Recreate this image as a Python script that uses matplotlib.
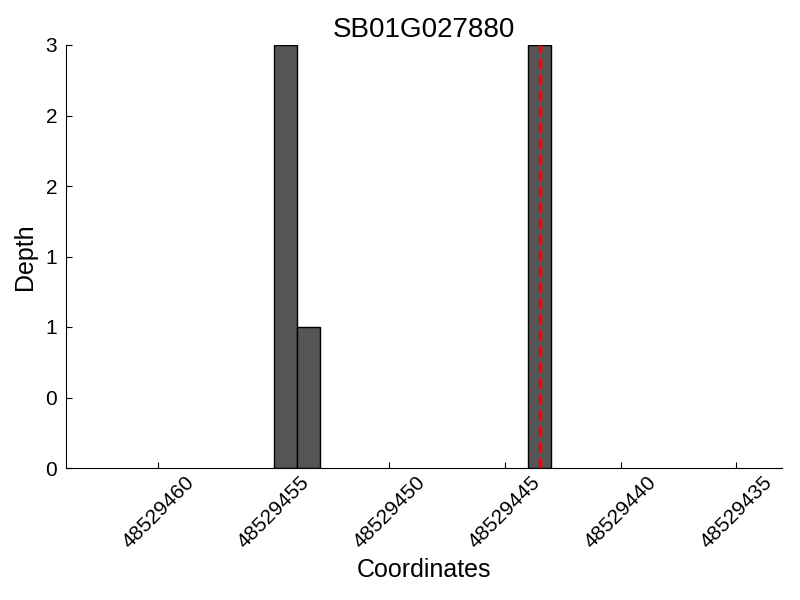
import matplotlib
matplotlib.use("Agg")
import matplotlib.pyplot as plt
from matplotlib.ticker import FormatStrFormatter

# posiciones (inicio de cada barra) y profundidad
posiciones = [48529454, 48529453, 48529443]
profundidad = [3, 1, 3]
snp = 48529443.5
titulo = "SB01G027880"
marcas_x = [48529460, 48529455, 48529450, 48529445, 48529440, 48529435]
marcas_y = [0, 0.5, 1, 1.5, 2, 2.5, 3]

plt.rcParams['font.family'] = ['Liberation Sans', 'DejaVu Sans']

fig = plt.figure(figsize=(8, 6), dpi=100)
ax = fig.add_axes([0.082, 0.22, 0.896, 0.705])

ax.bar(posiciones, profundidad, width=1, align='edge', color='#555555',
       edgecolor='black', linewidth=1)
ax.axvline(snp, color='red', linestyle='--', linewidth=2.5, dashes=(3, 1.6))

ax.set_xlim(48529464, 48529433)
ax.set_ylim(0, 3)
ax.set_xticks(marcas_x)
ax.set_xticklabels([str(m) for m in marcas_x], rotation=45, ha='center')
ax.set_yticks(marcas_y)
ax.yaxis.set_major_formatter(FormatStrFormatter('%d'))

ax.spines['top'].set_visible(False)
ax.spines['right'].set_visible(False)
ax.tick_params(direction='in', labelsize=15, top=False, right=False, length=4)
ax.tick_params(axis='y', pad=6)

ax.set_title(titulo, fontsize=20)
ax.set_xlabel('Coordinates', fontsize=18)
ax.set_ylabel('Depth', fontsize=18, labelpad=6)

fig.savefig('out.png', dpi=100)
